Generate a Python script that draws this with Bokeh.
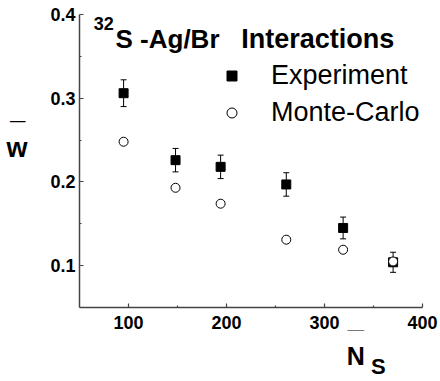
from bokeh.plotting import figure
from bokeh.models import (ColumnDataSource, Whisker, TeeHead, FixedTicker, Label,
                          Legend, LegendItem, Range1d, LinearAxis)
from bokeh.embed import file_html
from bokeh.resources import INLINE

# ---- data ----
n_s = [95, 148, 194, 261, 319, 370]
w_experiment = [0.306, 0.226, 0.218, 0.197, 0.145, 0.104]
w_experiment_err = [0.016, 0.014, 0.014, 0.014, 0.013, 0.012]
w_monte_carlo = [0.248, 0.193, 0.174, 0.131, 0.119, 0.105]

x_ticks = [100, 200, 300, 400]
x_minor = [150, 250, 350]
y_ticks = [0.1, 0.2, 0.3, 0.4]
y_minor = [0.15, 0.25, 0.35]

FONT = "Liberation Sans"

src_exp = ColumnDataSource(dict(
    x=n_s, y=w_experiment,
    upper=[w + e for w, e in zip(w_experiment, w_experiment_err)],
    lower=[w - e for w, e in zip(w_experiment, w_experiment_err)],
))
src_mc = ColumnDataSource(dict(x=n_s, y=w_monte_carlo))

p = figure(width=440, height=381, x_range=Range1d(50, 400), y_range=Range1d(0.05, 0.4),
           output_backend="svg", toolbar_location=None,
           min_border_left=79, min_border_right=18, min_border_top=14, min_border_bottom=74)
p.title.visible = False
p.outline_line_color = None
p.xgrid.visible = False
p.ygrid.visible = False
p.background_fill_color = "white"
p.border_fill_color = "white"

for ax, tk, mn in ((p.xaxis[0], x_ticks, x_minor), (p.yaxis[0], y_ticks, y_minor)):
    ax.ticker = FixedTicker(ticks=tk, minor_ticks=mn)
    ax.axis_line_color = "#444444"
    ax.axis_line_width = 1.5
    ax.major_tick_line_color = "#444444"
    ax.minor_tick_line_color = "#444444"
    ax.major_tick_line_width = 1.2
    ax.minor_tick_line_width = 1.2
    ax.major_tick_in = 4
    ax.major_tick_out = 0
    ax.minor_tick_in = 2
    ax.minor_tick_out = 0
    ax.major_label_text_font = FONT
    ax.major_label_text_font_style = "bold"
    ax.major_label_text_font_size = "18px"
    ax.major_label_text_color = "black"
p.xaxis.major_label_standoff = 8
p.yaxis.major_label_standoff = 4


def text_axis(place, ticks, labels, size, standoff):
    """An axis with no line/ticks that only carries text labels (axis titles)."""
    ax = LinearAxis(ticker=FixedTicker(ticks=ticks, minor_ticks=[]),
                    major_label_overrides=dict(zip(ticks, labels)),
                    axis_line_color=None, major_tick_line_color=None,
                    minor_tick_line_color=None, major_tick_in=0, major_tick_out=0,
                    minor_tick_in=0, minor_tick_out=0, major_label_standoff=standoff,
                    major_label_text_font=FONT, major_label_text_font_style="bold",
                    major_label_text_font_size=size, major_label_text_color="black")
    p.add_layout(ax, place)


# y-axis title: w with an over-bar
text_axis("left", [0.2865, 0.2411], ["_\u200a", "w"], "27px", 20)
# x-axis title: N (over-bar) with subscript S
text_axis("below", [332], ["__"], "15px", -17)
text_axis("below", [332], ["N"], "25px", 7)
text_axis("below", [355], ["S"], "22px", -19)

whisk = Whisker(base="x", upper="upper", lower="lower", source=src_exp, dimension="height",
                line_color="black", line_width=1,
                upper_head=TeeHead(size=6, line_color="black", line_width=1),
                lower_head=TeeHead(size=6, line_color="black", line_width=1))
p.add_layout(whisk)

r_exp = p.scatter("x", "y", source=src_exp, marker="square", size=9,
                  fill_color="black", line_color="black")
r_mc = p.scatter("x", "y", source=src_mc, marker="circle", size=9,
                 fill_color="white", line_color="black", line_width=1)

legend = Legend(items=[LegendItem(label="Experiment", renderers=[r_exp]),
                       LegendItem(label="Monte-Carlo", renderers=[r_mc])],
                location=(140, 179), glyph_width=25, glyph_height=25, label_standoff=27,
                spacing=6, padding=0, margin=0, border_line_alpha=0,
                background_fill_alpha=0, label_text_font=FONT,
                label_text_font_size="27px", label_text_color="black")
p.add_layout(legend)


def lab(x, y, text, size):
    p.add_layout(Label(x=x, y=y, x_units="screen", y_units="screen", text=text,
                       text_font=FONT, text_font_size=size, text_font_style="bold",
                       text_baseline="alphabetic", text_align="left", text_color="black"))


lab(14.3, 284, "32", "18px")
lab(36, 268.5, "S -Ag/Br", "26px")
lab(161.7, 268.5, "Interactions", "27px")

open("out.html", "w").write(file_html(p, INLINE))
